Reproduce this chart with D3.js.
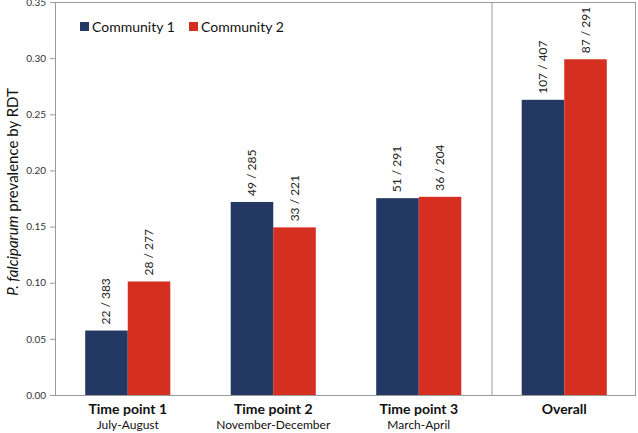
<!DOCTYPE html>
<html><head><meta charset="utf-8">
<script src="https://cdn.jsdelivr.net/npm/d3@7"></script>
<style>body{margin:0;background:#fff;} svg{display:block;font-family:Lato,"Open Sans",sans-serif;}</style>
</head><body><svg id="c" width="638" height="433"></svg>
<script>
const categories = ["Time point 1","Time point 2","Time point 3","Overall"];
const subtitles = ["July-August","November-December","March-April",""];
const seriesNames = ["Community 1","Community 2"];
const community1 = [0.0574, 0.1719, 0.1753, 0.2629];
const community2 = [0.1011, 0.1493, 0.1765, 0.2990];
const labels1 = ["22 / 383","49 / 285","51 / 291","107 / 407"];
const labels2 = ["28 / 277","33 / 221","36 / 204","87 / 291"];
const yTicks = [0,0.05,0.10,0.15,0.20,0.25,0.30,0.35];
const colors = ["#233863","#d52f22"];

const svg = d3.select("#c");
const L=55, R=637, T=2, B=395;
const x = d3.scaleBand().domain(categories).range([L,R]).paddingInner(0).paddingOuter(0);
const x1 = d3.scaleBand().domain(seriesNames).range([0,x.bandwidth()]).paddingInner(0).paddingOuter(0.71);
const y = d3.scaleLinear().domain([0,0.35]).range([B,T]);

// y axis
const yAxis = d3.axisLeft(y).tickValues(yTicks).tickFormat(d3.format(".2f")).tickSize(5).tickPadding(4);
const ga = svg.append("g").attr("transform",`translate(${L},0)`).call(yAxis);
ga.select(".domain").attr("stroke","#9a9a9a");
ga.selectAll(".tick line").attr("stroke","#9a9a9a");
ga.selectAll(".tick text").attr("font-size",10).attr("fill","#333").style("font-family","Lato,sans-serif");

// frame
svg.append("line").attr("x1",L).attr("x2",R-1).attr("y1",T+0.5).attr("y2",T+0.5).attr("stroke","#9a9a9a");
svg.append("line").attr("x1",R-1.5).attr("x2",R-1.5).attr("y1",T).attr("y2",B).attr("stroke","#9a9a9a");
svg.append("line").attr("x1",L).attr("x2",R-1).attr("y1",B+0.5).attr("y2",B+0.5).attr("stroke","#9a9a9a");
const divX = x("Overall");
svg.append("line").attr("x1",divX+0.5).attr("x2",divX+0.5).attr("y1",T).attr("y2",B).attr("stroke","#9a9a9a");

// bars
const series=[community1,community2], lbls=[labels1,labels2];
series.forEach((vals,si)=>{
  const g = svg.append("g");
  g.selectAll("rect").data(vals).join("rect")
    .attr("x",(d,i)=>x(categories[i])+x1(seriesNames[si]))
    .attr("width",x1.bandwidth())
    .attr("y",d=>y(d)).attr("height",d=>B-y(d))
    .attr("fill",colors[si]);
  g.selectAll("text").data(vals).join("text")
    .attr("transform",(d,i)=>`translate(${x(categories[i])+x1(seriesNames[si])+x1.bandwidth()/2+4},${y(d)-6}) rotate(-90)`)
    .attr("font-size",12).attr("fill","#222")
    .text((d,i)=>lbls[si][i]);
});

// x labels
categories.forEach((c,i)=>{
  const cx = x(c)+x.bandwidth()/2;
  svg.append("text").attr("x",cx).attr("y",414).attr("text-anchor","middle")
    .attr("font-size",14).attr("font-weight","bold").attr("fill","#111").text(c);
  if(subtitles[i]) svg.append("text").attr("x",cx).attr("y",429).attr("text-anchor","middle")
    .attr("font-size",12).attr("fill","#111").text(subtitles[i]);
});

// y title
const yt = svg.append("text").attr("transform","translate(18,192) rotate(-90)").attr("text-anchor","middle")
  .attr("font-size",15).attr("fill","#111");
yt.append("tspan").attr("font-style","italic").text("P. falciparum");
yt.append("tspan").text(" prevalence by RDT");

// legend
const legX=[80,189];
seriesNames.forEach((s,i)=>{
  svg.append("rect").attr("x",legX[i]).attr("y",22).attr("width",9).attr("height",9).attr("fill",colors[i]);
  svg.append("text").attr("x",legX[i]+12).attr("y",32).attr("font-size",14).attr("fill","#111").text(s);
});
</script></body></html>
